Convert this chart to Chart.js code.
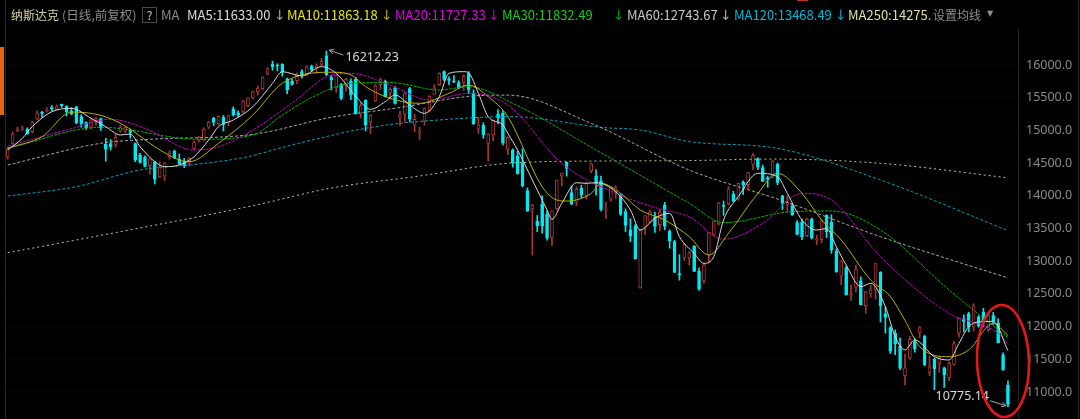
<!DOCTYPE html>
<html><head><meta charset="utf-8">
<script src="https://cdn.jsdelivr.net/npm/chart.js@4.4.1/dist/chart.umd.min.js"></script>
<style>html,body{margin:0;padding:0;background:#000;overflow:hidden}#wrap{position:relative;width:1080px;height:419px}</style>
</head><body><div id="wrap"><canvas id="c" width="1080" height="419"></canvas></div>
<script>
// ---- Daily candles (Nasdaq, 205 sessions) ----
const openP = [14590,14800,14990,15020,15020,14980,15170,15280,15290,15350,15320,15400,15370,15300,15360,15210,15120,15050,15150,15180,
14790,14800,14780,14990,14990,15010,14800,14620,14590,14460,14510,14290,14300,14590,14680,14560,14530,14500,14720,14850,
14860,15050,15190,15100,15200,15120,15330,15270,15290,15380,15500,15590,15640,15860,16010,16000,16010,15790,15750,15760,
15900,15850,15980,15960,16010,16140,15810,15650,15700,15690,15750,15780,15250,15460,15130,15450,15700,15750,15580,15650,
15200,15250,15640,15080,14970,15140,15300,15550,15700,15900,15790,15760,15730,15730,15870,15570,15030,15080,14800,14930,
15250,15260,14710,14700,14610,14500,14080,13800,13610,13870,13720,13360,13800,14300,14510,14050,13900,14120,14000,14380,
14300,14230,13780,13950,14060,14000,13760,13480,13540,12590,13520,13600,13680,13560,13860,13460,13300,12800,13050,13050,
13230,12850,12700,13100,13400,13570,13860,13880,14030,13950,14210,14170,14480,14570,14430,14270,14280,14480,14000,13870,
13850,13590,13600,13390,13640,13320,13330,13700,13600,13150,12770,12900,12470,12600,12700,12320,12500,12560,12830,12200,
11980,11900,11700,11250,11520,11770,11910,11850,11300,11500,11430,11370,11220,11420,11900,12120,12200,11990,12150,12220,
11950,12170,12050,11570,11100];
const highP = [14740,14975,15050,15070,15040,15140,15300,15290,15350,15380,15390,15403,15380,15350,15370,15240,15130,15180,15200,15190,
14880,14860,14940,15080,15060,15020,14810,14650,14610,14570,14530,14520,14510,14690,14700,14640,14570,14590,14840,14910,
15040,15140,15200,15220,15230,15230,15360,15300,15460,15500,15600,15680,15820,15960,16060,16020,16020,15800,15780,15880,
15930,15990,16000,16020,16100,16212.23,15840,15850,15720,15800,15790,15810,15420,15470,15240,15700,15800,15770,15650,15670,
15300,15580,15660,15250,15050,15345,15530,15700,15880,15910,15820,15840,15760,15850,15900,15620,15200,15120,14950,15160,
15320,15300,14900,14720,14680,14720,14120,13870,13700,14000,13770,13771,14242,14350,14517,14150,14140,14160,14200,14500,
14400,14300,13900,14140,14150,14030,13800,13650,13560,13483,13700,13780,13750,13790,13900,13480,13320,13100,13270,13150,
13240,12900,12960,13440,13620,13900,13920,14140,14070,14192,14230,14360,14646,14580,14470,14300,14540,14500,14010,14000,
13880,13620,13640,13660,13660,13400,13640,13710,13710,13190,13010,12920,12640,12940,12760,12540,12630,12970,12840,12300,
12000,11950,11830,11580,11850,11820,12000,11870,11550,11520,11540,11380,11460,11780,12131,12180,12220,12350,12170,12280,
12200,12220,12120,11600,11170];
const lowP = [14560,14790,14980,15000,14940,14960,15165,15200,15280,15300,15310,15350,15220,15240,15100,15050,15010,15020,15080,15000,
14530,14700,14740,14970,14960,14880,14520,14500,14440,14330,14180,14280,14230,14560,14570,14480,14430,14460,14700,14820,
14840,15030,15070,15080,14990,15070,15220,15210,15270,15360,15480,15540,15620,15850,15920,15910,15830,15560,15690,15710,
15800,15840,15900,15880,15990,15840,15618,15580,15470,15600,15470,15250,15190,14990,14950,15440,15630,15510,15480,15400,
15070,15120,15130,14980,14860,15080,15290,15550,15690,15760,15700,15730,15640,15610,15560,15090,14950,14880,14530,14840,
15100,14780,14630,14440,14330,14140,13760,13094,13450,13430,13320,13236,13780,14150,14300,13860,13850,13970,13950,14350,
14010,13770,13650,13920,13960,13700,13450,13300,13030,12587,13400,13580,13440,13470,13480,13200,12828,12710,13010,12940,
12840,12555,12660,12980,13380,13550,13700,13860,13910,13930,14020,14100,14400,14400,14220,14130,14270,14170,13790,13750,
13700,13400,13330,13370,13340,13250,13280,13360,13120,12830,12640,12480,12400,12530,12330,12200,12450,12420,12070,11900,
11590,11570,11340,11108,11500,11610,11830,11400,11250,11035,11300,11070,11170,11410,11840,11920,11920,11930,11990,12000,
11920,12030,11750,11330,10775.14];
const closeP = [14714,14942,15019,15041,14945,15129,15265,15259,15309,15331,15363,15374,15286,15248,15115,15105,15037,15161,15181,15043,
14713,14746,14896,15052,15047,14969,14546,14512,14448,14566,14255,14433,14501,14654,14579,14486,14465,14571,14823,14897,
15021,15129,15121,15215,15090,15226,15235,15235,15448,15498,15595,15649,15811,15940,15971,15982,15886,15622,15704,15860,
15853,15973,15921,15993,16057,15854,15775,15845,15491,15782,15537,15254,15381,15085,15225,15686,15786,15517,15630,15413,
15237,15565,15180,15169,14980,15341,15521,15653,15871,15781,15766,15741,15644,15832,15622,15100,15080,14935,14942,15153,
15188,14806,14893,14506,14340,14154,13768,13855,13539,13542,13352,13770,14239,14346,14417,13878,14098,14015,14194,14490,
14185,13791,13790,14139,14124,13716,13548,13381,13037,13473,13694,13751,13532,13752,13537,13313,12830,12795,13255,13129,
12843,12581,12948,13436,13614,13893,13838,14108,13922,14191,14169,14354,14619,14442,14220,14261,14532,14204,13888,13897,
13711,13411,13371,13643,13351,13332,13619,13453,13174,12839,13004,12490,12488,12871,12334,12536,12563,12964,12317,12144,
11623,11737,11364,11370,11805,11662,11984,11418,11388,11354,11535,11264,11434,11740,12131,12081,11994,12316,12012,12061,
12175,12086,11754,11340,10809];

// ---- Moving averages: [session index, value] ----
const ma5 = [[0,14700],[3,14880],[5,15057],[9,15286],[13,15337],[17,15185],[20,15057],[23,14930],[25,14945],[27,14751],[30,14521],[32,14445],[35,14471],[38,14598],[41,14853],[43,15057],[46,15159],[50,15362],[54,15720],[56,15898],[60,15832],[64,15975],[67,15873],[71,15520],[74,15323],[77,15439],[79,15541],[82,15388],[85,15261],[88,15515],[90,15873],[93,15898],[94,15880],[96,15567],[98,15210],[101,15082],[102,14955],[104,14700],[107,14242],[110,13783],[111,13640],[113,13885],[116,14200],[118,14191],[120,14200],[124,14062],[127,13783],[129,13477],[132,13656],[135,13732],[137,13375],[140,13120],[142,12967],[144,13069],[146,13630],[149,13987],[153,14344],[157,14292],[159,14037],[162,13630],[165,13477],[167,13500],[169,13222],[171,12942],[174,12610],[176,12662],[179,12305],[181,11846],[183,11643],[185,11796],[189,11540],[192,11489],[194,11744],[196,11999],[198,12070],[201,12080],[204,11633]];
const ma10 = [[0,14731],[7,14904],[13,15280],[19,15230],[24,15067],[30,14751],[35,14547],[37,14521],[43,14803],[50,15235],[56,15720],[66,15890],[70,15850],[73,15669],[78,15491],[84,15414],[90,15567],[94,15694],[98,15515],[102,15210],[109,14140],[112,13935],[114,13920],[119,14037],[121,14191],[125,14037],[129,13783],[134,13630],[139,13375],[143,13094],[147,13426],[153,14037],[157,14344],[162,14037],[166,13630],[170,13324],[176,12713],[180,12460],[183,12095],[186,11692],[192,11540],[196,11643],[201,12049],[204,11863]];
const ma20 = [[0,14761],[12,15006],[21,15170],[28,15032],[38,14700],[43,14751],[50,15006],[58,15420],[66,15847],[70,15873],[78,15694],[86,15465],[94,15567],[102,15388],[113,14497],[124,14037],[133,13800],[139,13680],[146,13334],[154,13579],[162,14037],[168,13935],[178,13069],[192,12203],[202,11897],[204,11727]];
const ma30 = [[0,14727],[19,15047],[39,14864],[50,14930],[56,15235],[63,15541],[70,15720],[78,15731],[88,15618],[94,15669],[103,15414],[120,14700],[139,13886],[146,13590],[160,13757],[168,13768],[178,13477],[192,12560],[204,11832]];
const ma60 = [[0,14471],[19,14803],[29,14864],[50,14940],[66,15200],[80,15350],[94,15520],[102,15540],[119,15108],[139,14394],[158,13925],[178,13375],[204,12744]];
const ma120 = [[0,13997],[14,14140],[27,14395],[39,14486],[49,14598],[56,14740],[63,14870],[70,14990],[78,15090],[88,15160],[102,15210],[106,15200],[121,15047],[129,15006],[139,14830],[157,14726],[178,14242],[204,13468]];
const ma250 = [[0,13130],[14,13324],[50,13849],[66,14119],[84,14303],[102,14497],[121,14532],[137,14537],[156,14562],[178,14497],[204,14275]];

const yTicks = [11000,11500,12000,12500,13000,13500,14000,14500,15000,15500,16000];
const header = [
  ['纳斯达克', 11, '#d8d0a8', 12], ['(日线,前复权)', 62, '#8c8c8c', 12.5], ['MA', 161, '#8c8c8c', 13],
  ['MA5:11633.00', 187, '#dcdcdc', 13], ['MA10:11863.18', 287, '#e6e600', 13], ['MA20:11727.33', 395, '#e000e0', 13],
  ['MA30:11832.49', 502, '#10d010', 13], ['MA60:12743.67', 627, '#c8c8c8', 13], ['MA120:13468.49', 734, '#00b8d8', 13],
  ['MA250:14275.', 848, '#e6dfa0', 13], ['设置均线', 933, '#909090', 12]
];
const downArrows = [[274,'#a0a0a0'],[381,'#a8a800'],[488,'#b000b0'],[613,'#00a000'],[720,'#a8a8a8'],[835,'#00a0c0']];

const UP = '#a83636', DN = '#00e8f0';
const idx = closeP.map((_, i) => i);
const isUp = i => closeP[i] >= openP[i];

function maSet(label, pts, color, dash, order) {
  return { type: 'line', label, data: pts.map(([x, y]) => ({ x, y })), borderColor: color, borderWidth: 1,
    borderDash: dash, pointRadius: 0, cubicInterpolationMode: 'monotone', fill: false, order };
}

const bgPlugin = {
  id: 'bg',
  beforeDraw(chart) {
    const c = chart.ctx; c.save(); c.fillStyle = '#000'; c.fillRect(0, 0, chart.width, chart.height);
    c.fillStyle = '#e4640e'; c.fillRect(0, 47, 4, 68);
    c.fillStyle = '#262626'; c.fillRect(5, 0, 1, chart.height); c.fillRect(1078, 0, 1, chart.height);
    c.fillStyle = '#c0301c'; c.fillRect(797, 0, 11, 1);
    c.restore();
  },
  afterDraw(chart) {
    const c = chart.ctx; c.save();
    c.textBaseline = 'middle';
    header.forEach(([t, x, col, fs]) => {
      c.font = fs + 'px "Noto Sans CJK SC", "Noto Sans", sans-serif';
      c.fillStyle = col; c.fillText(t, x, 15);
    });
    c.font = '12px "Noto Sans CJK SC", sans-serif';
    c.strokeStyle = '#4a4a4a'; c.lineWidth = 1; c.strokeRect(142.5, 7.5, 14, 15);
    c.fillStyle = '#d0d0d0'; c.textAlign = 'center'; c.fillText('?', 149.5, 15); c.textAlign = 'left';
    c.font = '14px "DejaVu Sans", sans-serif';
    downArrows.forEach(([x, col]) => { c.fillStyle = col; c.fillText('↓', x, 16); });
    c.font = '8px "DejaVu Sans", sans-serif'; c.fillStyle = '#909090'; c.fillText('▼', 987, 14);

    const xs = chart.scales.x, ys = chart.scales.y;
    let hi = 0; highP.forEach((v, i) => { if (v > highP[hi]) hi = i; });
    let lo = 0; lowP.forEach((v, i) => { if (v < lowP[lo]) lo = i; });
    const arrow = (x1, y1, x2, y2) => {
      c.beginPath(); c.moveTo(x1, y1); c.lineTo(x2, y2);
      const a = Math.atan2(y2 - y1, x2 - x1), L = 5;
      c.moveTo(x2, y2); c.lineTo(x2 - L * Math.cos(a - 0.5), y2 - L * Math.sin(a - 0.5));
      c.moveTo(x2, y2); c.lineTo(x2 - L * Math.cos(a + 0.5), y2 - L * Math.sin(a + 0.5));
      c.stroke();
    };
    c.strokeStyle = '#a8a8a8'; c.lineWidth = 1;
    const hx = xs.getPixelForValue(hi), hy = ys.getPixelForValue(highP[hi]);
    arrow(hx + 17, hy + 4, hx + 3, hy - 1);
    const lx = xs.getPixelForValue(lo), ly = ys.getPixelForValue(lowP[lo]);
    arrow(lx - 18, ly - 6, lx - 2, ly - 1);
    c.font = '12.5px "Noto Sans", "Open Sans", sans-serif'; c.fillStyle = '#d8d8d8';
    c.textAlign = 'left'; c.fillText(highP[hi].toFixed(2), hx + 19, hy + 6);
    c.textAlign = 'right'; c.fillText(lowP[lo].toFixed(2), lx - 19, ly - 10);
    c.strokeStyle = '#e8161b'; c.lineWidth = 2.6;
    c.beginPath(); c.ellipse(1003, 361, 26, 56, -0.03, 0, Math.PI * 2); c.stroke();
    c.restore();
  }
};

new Chart(document.getElementById('c'), {
  type: 'bar',
  data: {
    datasets: [
      maSet('MA5', ma5, '#d8d8d8', [], 0),
      maSet('MA10', ma10, '#b8b000', [], 0),
      maSet('MA20', ma20, '#c000c0', [3, 1], 0),
      maSet('MA30', ma30, '#00b000', [3, 1], 0),
      maSet('MA60', ma60, '#a8a8a8', [3, 2], 0),
      maSet('MA120', ma120, '#00a0b8', [3, 2], 0),
      maSet('MA250', ma250, '#c8c890', [2, 3], 0),
      { type: 'bar', label: 'body', data: idx.map(i => ({ x: i, y: [openP[i], closeP[i]] })),
        backgroundColor: idx.map(i => isUp(i) ? '#000' : DN), borderColor: idx.map(i => isUp(i) ? UP : DN),
        borderWidth: 1, borderSkipped: false, barThickness: 3, minBarLength: 1, grouped: false, order: 1 },
      { type: 'bar', label: 'wick', data: idx.map(i => ({ x: i, y: [lowP[i], highP[i]] })),
        backgroundColor: idx.map(i => isUp(i) ? UP : DN), barThickness: 1, grouped: false, order: 2 }
    ]
  },
  options: {
    responsive: false, animation: false, events: [],
    layout: { padding: { left: 5, top: 28, right: 0, bottom: 0 } },
    plugins: { legend: { display: false }, tooltip: { enabled: false } },
    scales: {
      x: { type: 'linear', min: -0.55, max: 206.05, display: false, offset: false },
      y: {
        position: 'right', min: 10587, max: 16566,
        afterBuildTicks: s => { s.ticks = yTicks.map(v => ({ value: v })); },
        afterFit: s => { s.width = 62; s.paddingTop = 0; s.paddingBottom = 0; },
        ticks: { color: '#8a8a8a', padding: 8, font: { size: 12.5, family: '"Noto Sans", "Open Sans", sans-serif' },
          callback: v => Number(v).toFixed(1) },
        grid: { color: '#161616', drawTicks: false },
        border: { display: true, color: '#222', dash: [1, 3] }
      }
    }
  },
  plugins: [bgPlugin]
});
</script></body></html>
